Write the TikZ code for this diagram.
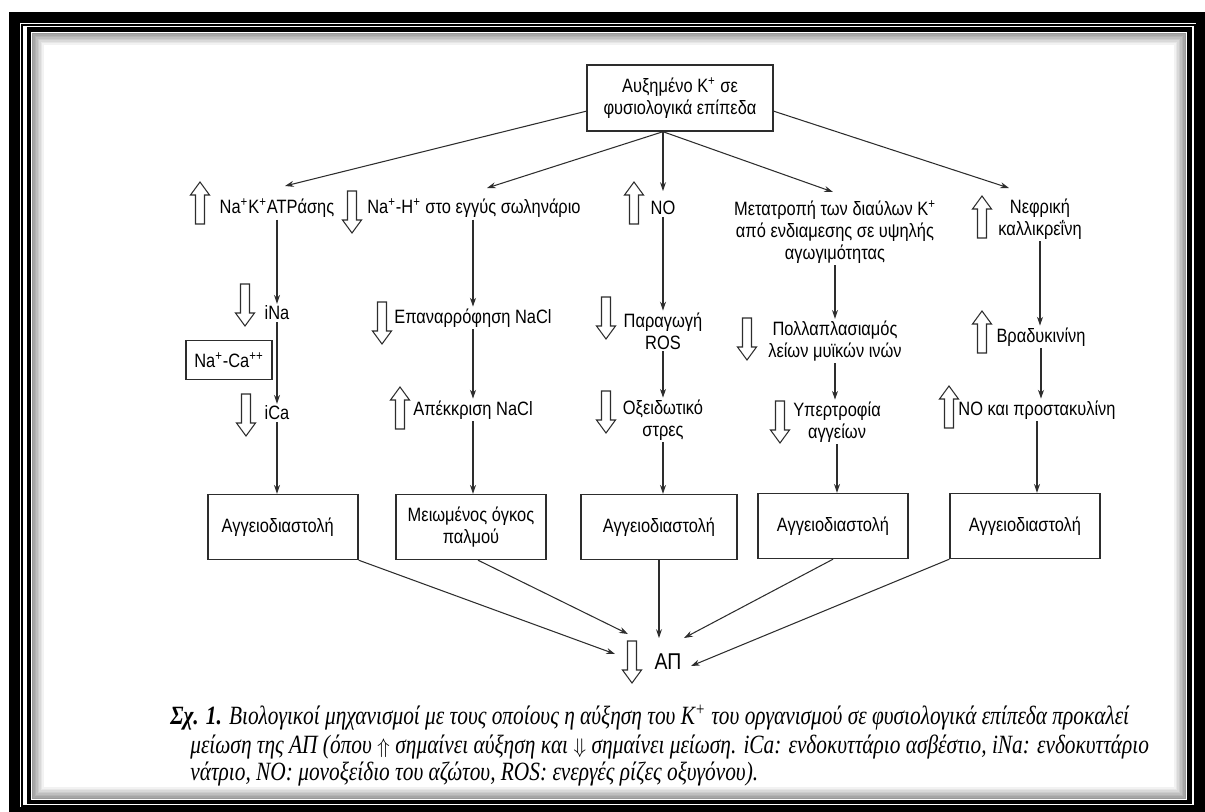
\documentclass[tikz,border=0pt]{standalone}
\usepackage{fontspec}
\setmainfont[FakeStretch=0.85]{Liberation Sans}
\newfontfamily\capfont[FakeStretch=0.81]{Liberation Serif}
\usetikzlibrary{arrows.meta, positioning, calc}
\definecolor{myline}{RGB}{45,45,45}
\newcommand{\capup}{{\fontsize{12}{12}\selectfont$\Uparrow$}}
\newcommand{\capdown}{{\fontsize{12}{12}\selectfont$\Downarrow$}}
\tikzset{
  conn/.style={-{Stealth[length=5pt,width=3.4pt]}, line width=0.6pt, myline},
  lbl/.style={font=\fontsize{11}{12.5}\selectfont, align=center, inner sep=1pt},
  bx/.style={draw=myline, line width=0.8pt, minimum width=3cm, minimum height=1.3cm, lbl, inner sep=2pt},
  capline/.style={anchor=west, inner sep=0pt, font=\capfont\itshape\fontsize{15}{16}\selectfont},
  hollow/.style={draw=myline, line width=0.6pt, fill=white},
  hup/.pic={\draw[hollow] (-4.5,21) -- (-4.5,-8) -- (-9.5,-8) -- (0,-21) -- (9.5,-8) -- (4.5,-8) -- (4.5,21) -- cycle;},
  hdown/.pic={\draw[hollow] (-4.5,-21) -- (-4.5,8) -- (-9.5,8) -- (0,21) -- (9.5,8) -- (4.5,8) -- (4.5,-21) -- cycle;},
}
\begin{document}
\begin{tikzpicture}[x=0.02cm, y=-0.02cm]
    \useasboundingbox (0,0) rectangle (1205,812);

    % frame
    \draw[line width=6.2pt] (14.5,17.5) rectangle (1201,812);
    \draw[line width=0.7pt] (22,25) rectangle (1195,806);
    \draw[line width=2.8pt] (29,29.5) rectangle (1189.5,802);
    \foreach \i in {1,...,8}
        \draw[black, opacity={0.45-0.05*\i}, line width=0.9pt] (31+1.5*\i,32+1.5*\i) rectangle (1187-1.5*\i,800-1.5*\i);

    % top
    \node[bx, minimum width=3.72cm, minimum height=1.32cm] (top) at (680,98) {Αυξημένο K\textsuperscript{+} σε\\φυσιολογικά επίπεδα};

    % first row
    \node[lbl] (atp) at (277,208) {Na\textsuperscript{+}K\textsuperscript{+}ATPάσης};
    \node[lbl] (nah) at (474,208) {Na\textsuperscript{+}-H\textsuperscript{+} στο εγγύς σωληνάριο};
    \node[lbl] (no) at (663,208) {NO};
    \node[lbl] (chan) at (835,232) {Μετατροπή των διαύλων K\textsuperscript{+}\\από ενδιαμεσης σε υψηλής\\αγωγιμότητας};
    \node[lbl] (kall) at (1040,219) {Νεφρική\\καλλικρεΐνη};

    % column 1
    \node[lbl] (ina) at (277,313) {iNa};
    \node[bx, minimum width=1.72cm, minimum height=0.78cm] (nca) at (229,360) {Na\textsuperscript{+}-Ca\textsuperscript{++}};
    \node[lbl] (ica) at (277,413) {iCa};

    % column 2
    \node[lbl] (reab) at (473,318) {Επαναρρόφηση NaCl};
    \node[lbl] (secr) at (473,410) {Απέκκριση NaCl};

    % column 3
    \node[lbl] (ros) at (663,331) {Παραγωγή\\ROS};
    \node[lbl] (ox) at (663,420) {Οξειδωτικό\\στρες};

    % column 4
    \node[lbl] (smc) at (835,341) {Πολλαπλασιαμός\\λείων μυϊκών ινών};
    \node[lbl] (hyp) at (837,422) {Υπερτροφία\\αγγείων};

    % column 5
    \node[lbl] (brad) at (1041,337) {Βραδυκινίνη};
    \node[lbl] (nopr) at (1037,410) {ΝΟ και προστακυλίνη};

    % effect boxes
    \node[bx] (b1) at (283,527) {Αγγειοδιαστολή\hspace*{6pt}};
    \node[bx] (b2) at (471,527) {Μειωμένος όγκος\\παλμού};
    \node[bx, minimum width=3.12cm] (b3) at (659,527) {Αγγειοδιαστολή};
    \node[bx] (b4) at (833,526) {Αγγειοδιαστολή};
    \node[bx] (b5) at (1025,526) {Αγγειοδιαστολή};

    \node[lbl, font=\fontsize{13}{14}\selectfont] (ap) at (668,662) {ΑΠ};

    % up / down markers
    \pic at (200,203) {hup};
    \pic at (352,212) {hdown};
    \pic at (245,305) {hdown};
    \pic at (246,415) {hdown};
    \pic at (382,323) {hdown};
    \pic at (400,408) {hup};
    \pic at (634,203) {hup};
    \pic at (606,318) {hdown};
    \pic at (606,412) {hdown};
    \pic at (747,339) {hdown};
    \pic at (780,422) {hdown};
    \pic at (982,217) {hup};
    \pic at (982,332) {hup};
    \pic at (949,407) {hup};
    \pic at (632,662) {hdown};

    % arrows from top
    \draw[conn] (top.188) -- ($(atp)+(8,-22)$);
    \draw[conn] ($(top.south)+(-17,0)$) -- ($(nah)+(13,-20)$);
    \draw[conn] ($(top.south)+(-17,0)$) -- ($(no)+(0,-17)$);
    \draw[conn] ($(top.south)+(-17,0)$) -- ($(chan)+(-2,-40)$);
    \draw[conn] (top.352) -- ($(kall)+(-31,-31)$);

    % chains
    \draw[conn] (atp.south) -- (ina.north);
    \draw[conn] (ina.south) -- (ica.north);
    \draw[conn] (ica.south) -- (ica.south |- b1.north);
    \draw[conn] (nah.south -| reab.north) -- (reab.north);
    \draw[conn] (reab.south) -- (secr.north);
    \draw[conn] (secr.south) -- (secr.south |- b2.north);
    \draw[conn] (no.south) -- (ros.north);
    \draw[conn] (ros.south) -- (ox.north);
    \draw[conn] (ox.south) -- (ox.south |- b3.north);
    \draw[conn] (chan.south) -- (smc.north);
    \draw[conn] (smc.south) -- (smc.south |- hyp.north);
    \draw[conn] (hyp.south) -- (hyp.south |- b4.north);
    \draw[conn] (kall.south) -- (kall.south |- brad.north);
    \draw[conn] (brad.south) -- (brad.south |- nopr.north);
    \draw[conn] (nopr.south) -- (nopr.south |- b5.north);

    % into AP
    \draw[conn] (b1.south east) -- ($(ap)+(-53,-8)$);
    \draw[conn] ($(b2.south)+(7,0)$) -- ($(ap)+(-40,-28)$);
    \draw[conn] (b3.south) -- ($(b3.south |- ap)+(0,-24)$);
    \draw[conn] (b4.south) -- ($(ap)+(16,-24)$);
    \draw[conn] (b5.south west) -- ($(ap)+(23,4)$);

    % caption
    \node[capline] (cap1) at (170,718) {\textbf{Σχ. 1.} Βιολογικοί μηχανισμοί με τους οποίους η αύξηση του K\textsuperscript{+} του οργανισμού σε φυσιολογικά επίπεδα προκαλεί};
    \node[capline] (cap2) at (190,747) {μείωση της ΑΠ (όπου \capup\ σημαίνει αύξηση και \capdown\ σημαίνει μείωση. iCa: ενδοκυττάριο ασβέστιο, iNa: ενδοκυττάριο};
    \node[capline] (cap3) at (190,774) {νάτριο, NO: μονοξείδιο του αζώτου, ROS: ενεργές ρίζες οξυγόνου).};
\end{tikzpicture}
\end{document}
